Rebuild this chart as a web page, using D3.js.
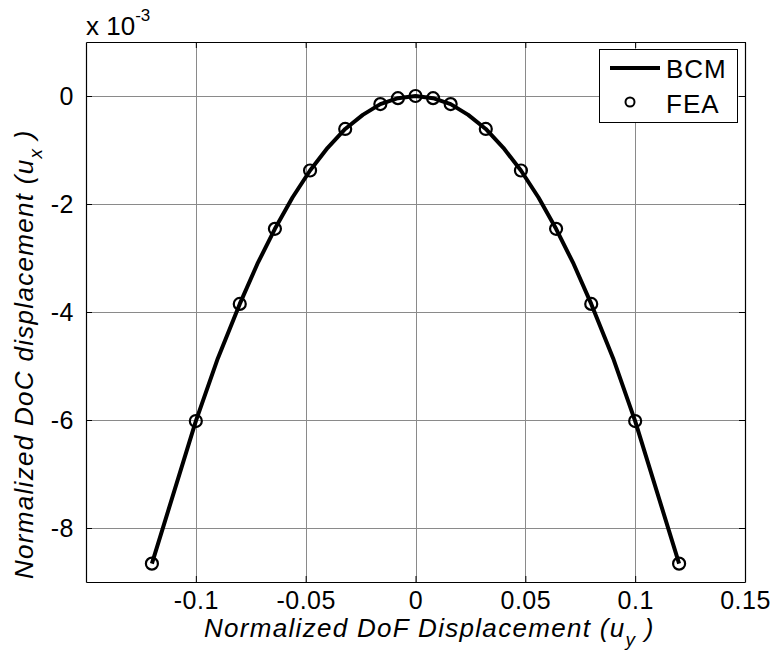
<!DOCTYPE html>
<html>
<head>
<meta charset="utf-8">
<script src="https://cdn.jsdelivr.net/npm/d3@7"></script>
<style>
  body { margin: 0; background: #fff; }
  text { font-family: Arial, "Liberation Sans", sans-serif; fill: #000; }
</style>
</head>
<body>
<script>
// BCM curve samples (u_y, u_x in units of 1e-3)
var bcmX = [-0.12, -0.1, -0.09, -0.08, -0.072, -0.064, -0.056, -0.048, -0.04, -0.032, -0.024, -0.016, -0.008, 0,
            0.008, 0.016, 0.024, 0.032, 0.04, 0.048, 0.056, 0.064, 0.072, 0.08, 0.09, 0.1, 0.12];
var bcmY = [-8.66, -6.02, -4.86, -3.85, -3.11, -2.46, -1.88, -1.38, -0.96, -0.61, -0.35, -0.15, -0.04, 0,
            -0.04, -0.15, -0.35, -0.61, -0.96, -1.38, -1.88, -2.46, -3.11, -3.85, -4.86, -6.02, -8.66];

// FEA points
var feaX = [-0.12, -0.1, -0.08, -0.064, -0.048, -0.032, -0.016, -0.008, 0,
            0.008, 0.016, 0.032, 0.048, 0.064, 0.08, 0.1, 0.12];
var feaY = [-8.66, -6.02, -3.85, -2.46, -1.38, -0.61, -0.15, -0.04, 0,
            -0.04, -0.15, -0.61, -1.38, -2.46, -3.85, -6.02, -8.66];

var xTicks = [-0.1, -0.05, 0, 0.05, 0.1, 0.15];
var yTicks = [0, -2, -4, -6, -8];

var width = 774, height = 655;
var pLeft = 86, pRight = 745, pTop = 42, pBottom = 582;

var svg = d3.select("body").append("svg")
  .attr("width", width)
  .attr("height", height);

var x = d3.scaleLinear().domain([-0.15, 0.15]).range([pLeft, pRight]);
var y = d3.scaleLinear().domain([-9, 1]).range([pBottom, pTop]);

// grid
var grid = svg.append("g").attr("stroke", "#8a8a8a").attr("stroke-width", 1);
grid.selectAll(".gx").data(xTicks.filter(function (d) { return d < 0.15; }))
  .enter().append("line")
  .attr("x1", function (d) { return Math.round(x(d)) + 0.5; })
  .attr("x2", function (d) { return Math.round(x(d)) + 0.5; })
  .attr("y1", pTop).attr("y2", pBottom);
grid.selectAll(".gy").data(yTicks)
  .enter().append("line")
  .attr("y1", function (d) { return Math.round(y(d)) + 0.5; })
  .attr("y2", function (d) { return Math.round(y(d)) + 0.5; })
  .attr("x1", pLeft).attr("x2", pRight);

// axes (inward ticks, MATLAB style)
var fmt = function (d) { return d === 0 ? "0" : String(d); };
var axB = svg.append("g").attr("transform", "translate(0," + pBottom + ")")
  .call(d3.axisBottom(x).tickValues(xTicks).tickSizeInner(-6).tickSizeOuter(0).tickFormat(fmt).tickPadding(9));
var axT = svg.append("g").attr("transform", "translate(0," + pTop + ")")
  .call(d3.axisTop(x).tickValues(xTicks).tickSizeInner(-6).tickSizeOuter(0).tickFormat(""));
var axL = svg.append("g").attr("transform", "translate(" + pLeft + ",0)")
  .call(d3.axisLeft(y).tickValues(yTicks).tickSizeInner(-6).tickSizeOuter(0).tickFormat(fmt).tickPadding(12));
var axR = svg.append("g").attr("transform", "translate(" + pRight + ",0)")
  .call(d3.axisRight(y).tickValues(yTicks).tickSizeInner(-6).tickSizeOuter(0).tickFormat(""));

[axB, axT, axL, axR].forEach(function (a) {
  a.selectAll("path").attr("stroke", "#000").attr("stroke-width", 1.2);
  a.selectAll("line").attr("stroke", "#000");
  a.selectAll("text").style("font-size", "25px").style("letter-spacing", "0.5px").attr("fill", "#000");
});
axB.selectAll("text").attr("dy", "0.71em");

// exponent label
var ex = svg.append("text").attr("x", 86).attr("y", 35).style("font-size", "26px");
ex.append("tspan").text("x 10");
ex.append("tspan").attr("dy", -14).style("font-size", "17px").text("-3");

// BCM line
var line = d3.line()
  .x(function (d) { return x(d[0]); })
  .y(function (d) { return y(d[1]); });
var bcm = bcmX.map(function (v, i) { return [v, bcmY[i]]; });
svg.append("path").datum(bcm)
  .attr("d", line)
  .attr("fill", "none")
  .attr("stroke", "#000")
  .attr("stroke-width", 4)
  .attr("stroke-linejoin", "round");

// FEA circles
var fea = feaX.map(function (v, i) { return [v, feaY[i]]; });
svg.append("g").selectAll("circle").data(fea)
  .enter().append("circle")
  .attr("cx", function (d) { return x(d[0]); })
  .attr("cy", function (d) { return y(d[1]); })
  .attr("r", 6)
  .attr("fill", "none")
  .attr("stroke", "#000")
  .attr("stroke-width", 2.2);

// axis labels
var xl = svg.append("text").attr("x", 204).attr("y", 637)
  .style("font-size", "26px").style("font-style", "italic").style("letter-spacing", "1.3px");
xl.append("tspan").text("Normalized DoF Displacement (u");
xl.append("tspan").attr("dy", 9).style("font-size", "19px").text("y");
xl.append("tspan").attr("dy", -9).text(" )");

var yl = svg.append("text")
  .attr("transform", "translate(33,579) rotate(-90)")
  .style("font-size", "26px").style("font-style", "italic").style("letter-spacing", "1.3px");
yl.append("tspan").text("Normalized DoC displacement (u");
yl.append("tspan").attr("dy", 9).style("font-size", "19px").text("x");
yl.append("tspan").attr("dy", -9).text(" )");

// legend
var lg = svg.append("g");
lg.append("rect").attr("x", 599.5).attr("y", 49.5).attr("width", 138).attr("height", 73)
  .attr("fill", "#fff").attr("stroke", "#000").attr("stroke-width", 1);
lg.append("line").attr("x1", 610).attr("x2", 660).attr("y1", 68).attr("y2", 68)
  .attr("stroke", "#000").attr("stroke-width", 4);
lg.append("text").attr("x", 666).attr("y", 78).style("font-size", "26px").style("letter-spacing", "1px").text("BCM");
lg.append("circle").attr("cx", 630).attr("cy", 102).attr("r", 4.5)
  .attr("fill", "none").attr("stroke", "#000").attr("stroke-width", 2);
lg.append("text").attr("x", 666).attr("y", 113).style("font-size", "26px").style("letter-spacing", "1px").text("FEA");
</script>
</body>
</html>
